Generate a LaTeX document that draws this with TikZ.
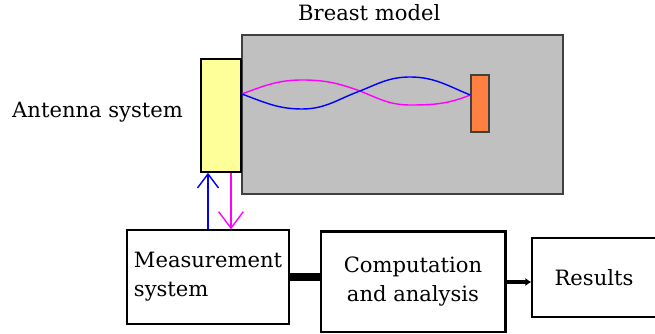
\documentclass[tikz,border=0pt]{standalone}
\usepackage{fontspec}
\setmainfont{DejaVu Serif}
\usepackage{xcolor}
\usepackage{tikz}
\usetikzlibrary{arrows.meta,calc}

\definecolor{modelgray}{HTML}{C0C0C0}
\definecolor{modeledge}{HTML}{404040}
\definecolor{antyellow}{HTML}{FFFF99}
\definecolor{targetorange}{HTML}{FF8040}
\definecolor{wavepink}{HTML}{FF00FF}
\definecolor{waveblue}{HTML}{0000FF}

\begin{document}
\begin{tikzpicture}[
    every node/.style={font=\fontsize{18}{24.75}\selectfont, inner sep=0pt},
    block/.style={draw=black, fill=white, line width=1.2pt},
    sigup/.style={waveblue, line width=1.2pt, -{Straight Barb[length=12pt,width=18pt]}},
    sigdown/.style={wavepink, line width=1.2pt, -{Straight Barb[length=14pt,width=21pt]}}]

%% ── Page: 1px = 0.03cm ───────────────────────────────────────────────────────
\useasboundingbox (0,0) rectangle (19.65,10.02);

%% ── Breast model and antenna ─────────────────────────────────────────────────
\node[draw=modeledge, fill=modelgray, line width=1.7pt,
      minimum width=9.63cm, minimum height=4.77cm] (model) at (12.075,6.585) {};
\node[draw=black, fill=antyellow, line width=1.3pt,
      minimum width=1.2cm, minimum height=3.39cm] (ant) at (6.63,6.555) {};
\node[draw=modeledge, fill=targetorange, line width=1.2pt,
      minimum width=0.54cm, minimum height=1.71cm] (target) at (14.4,6.915) {};

\node[anchor=base west] (modellabel) at (8.94,9.39) {Breast model};
\node[anchor=base west] (antlabel) at (0.36,6.48) {Antenna system};

%% ── Waves between antenna and target ─────────────────────────────────────────
\coordinate (wavestart) at ([yshift=0.645cm]ant.east);
\coordinate (waveend) at ([yshift=0.255cm]target.west);
\draw[wavepink, line width=1.2pt]
  (wavestart) to[out=20,in=180] (9.06,7.62) to[out=0,in=160] (10.8,7.29)
  to[out=-22,in=180] (12.3,6.87) to[out=0,in=-158] (waveend);
\draw[waveblue, line width=1.2pt]
  (wavestart) to[out=-20,in=180] (9.06,6.75) to[out=0,in=200] (10.8,7.29)
  to[out=22,in=180] (12.3,7.71) to[out=0,in=158] (waveend);

%% ── Processing chain ─────────────────────────────────────────────────────────
\node[block, minimum width=4.86cm, minimum height=2.82cm, align=left]
  (meas) at (6.24,1.71) {Measurement\\system};
\node[block, minimum width=5.52cm, minimum height=3.0cm, align=center]
  (comp) at (12.39,1.56) {Computation\\and analysis};
\draw[line width=3pt] (comp.north west) -- (comp.north east) -- (comp.south east);
\node[block, minimum width=3.72cm, minimum height=2.37cm]
  (res) at (17.82,1.695) {Results};

%% ── Signals ──────────────────────────────────────────────────────────────────
\draw[sigup] (meas.north) -- (meas.north |- ant.south);
\draw[sigdown] ([xshift=0.3cm]ant.south) -- ([xshift=0.3cm]ant.south |- meas.north);

\draw[line width=6.5pt] (meas.east) -- (meas.east -| comp.west);
\draw[line width=2.6pt, -{Latex[length=5pt,width=7pt]}]
  (comp.east) -- (comp.east -| res.west);

\end{tikzpicture}
\end{document}
